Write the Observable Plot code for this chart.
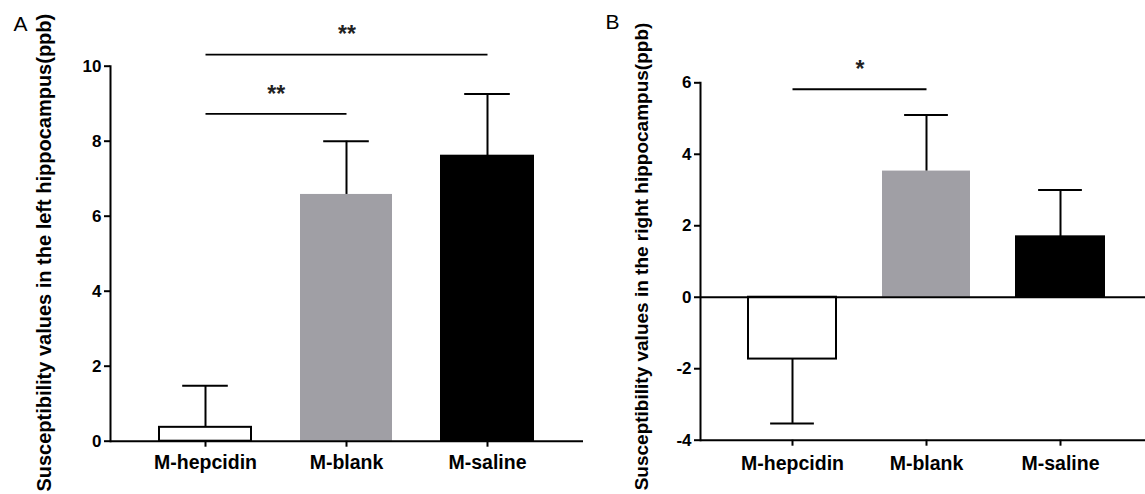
<!DOCTYPE html>
<html><head><meta charset="utf-8">
<script src="https://cdn.jsdelivr.net/npm/d3@7"></script>
<script src="https://cdn.jsdelivr.net/npm/@observablehq/plot@0.6"></script>
<style>
html,body{margin:0;padding:0;background:#fff;}
#wrap{position:relative;width:1145px;height:494px;overflow:hidden;background:#fff;}
#a{position:absolute;left:0;top:0;}
#b{position:absolute;left:590px;top:0;}
</style></head><body><div id="wrap"><div id="a"></div><div id="b"></div></div>
<script>
// ---- data ----
const groups = ["M-hepcidin", "M-blank", "M-saline"];
const barFills = ["white", "#a09fa5", "black"];
const barStrokes = ["black", "none", "black"];

const leftMean = [0.37, 6.58, 7.60];
const leftErr  = [1.11, 1.42, 1.66];
const rightMean = [-1.73, 3.53, 1.69];
const rightErr  = [1.80, 1.57, 1.31];

const leftTicks = [0, 2, 4, 6, 8, 10];
const rightTicks = [-4, -2, 0, 2, 4, 6];

const leftLabel = "Susceptibility values in the left hippocampus(ppb)";
const rightLabel = "Susceptibility values in the right hippocampus(ppb)";

const leftSig = [
  {from: "M-hepcidin", to: "M-blank", y: 8.73, labelY: 9.23, label: "**"},
  {from: "M-hepcidin", to: "M-saline", y: 10.31, labelY: 10.83, label: "**"}
];
const rightSig = [
  {from: "M-hepcidin", to: "M-blank", y: 5.82, labelY: 6.38, label: "*"}
];

function rows(means, errs) {
  return groups.map((g, i) => ({group: g, mean: means[i], tip: means[i] + Math.sign(means[i]) * errs[i], fill: barFills[i], stroke: barStrokes[i]}));
}

function panel(cfg) {
  const data = rows(cfg.means, cfg.errs);
  const xs = Plot.scale({x: {type: "band", domain: groups, range: cfg.xRange, padding: 0.344}});
  const bw = xs.bandwidth;
  const marks = [
    Plot.barY(data, {x: "group", y: "mean", fill: "fill", stroke: "stroke", strokeWidth: 2}),
    Plot.ruleX(data, {x: "group", y1: "mean", y2: "tip", strokeWidth: 2}),
    Plot.tickY(data, {x: "group", y: "tip", strokeWidth: 2, insetLeft: bw / 4, insetRight: bw / 4}),
    Plot.frame({anchor: "left", strokeWidth: 2}),
    ...cfg.baseRules.map(v => Plot.ruleY([v], {strokeWidth: 2})),
    Plot.axisY({ticks: cfg.ticks, tickSize: 6, tickPadding: 3, fontSize: 17, tickFormat: d => String(d), label: null, strokeWidth: 2}),
    Plot.axisX({tickSize: 6, tickPadding: cfg.xPad, fontSize: 19.5, label: null, strokeWidth: 2}),
    Plot.link(cfg.sig, {x1: "from", x2: "to", y1: "y", y2: "y", strokeWidth: 1.8}),
    ...cfg.sig.map(s => Plot.text([s], {x: "from", y: "labelY", text: "label", fontSize: 23, fill: "#222",
      dx: (xs.apply(s.to) - xs.apply(s.from)) / 2})),
    Plot.text([cfg.label], {text: d => d, frameAnchor: "left", rotate: -90, dx: cfg.labelDx, dy: cfg.labelDy,
      fontSize: cfg.labelSize, textAnchor: "middle", lineAnchor: "middle"}),
    Plot.text([cfg.letter], {text: d => d, frameAnchor: "top-left", textAnchor: "start", lineAnchor: "top",
      dx: cfg.letterDx, dy: cfg.letterDy, fontSize: 21, fontWeight: "normal"})
  ];
  return Plot.plot({
    width: cfg.width, height: 494,
    marginLeft: 110, marginRight: cfg.marginRight, marginTop: cfg.marginTop, marginBottom: cfg.marginBottom,
    style: {fontFamily: "Arial, 'Liberation Sans', sans-serif", fontWeight: "bold", background: "white", color: "black", overflow: "visible"},
    x: {type: "band", domain: groups, range: cfg.xRange, padding: 0.344, axis: null},
    y: {domain: cfg.yDomain, axis: null},
    color: {type: "identity"},
    marks
  });
}

document.getElementById("a").append(panel({
  means: leftMean, errs: leftErr, ticks: leftTicks, yDomain: [0, 10], sig: leftSig,
  width: 590, marginRight: 7, marginTop: 65.7, marginBottom: 53.3, xRange: [110, 583],
  baseRules: [0], xPad: 8, label: leftLabel, labelDx: -66, labelDy: -1, labelSize: 20,
  letter: "A", letterDx: -97, letterDy: -50
}));
document.getElementById("b").append(panel({
  means: rightMean, errs: rightErr, ticks: rightTicks, yDomain: [-4, 6], sig: rightSig,
  width: 555, marginRight: 0, marginTop: 82.3, marginBottom: 54.3, xRange: [110, 561],
  baseRules: [0, -4], xPad: 10, label: rightLabel, labelDx: -58.5, labelDy: -5, labelSize: 19,
  letter: "B", letterDx: -95, letterDy: -69
}));
</script>
</body></html>
